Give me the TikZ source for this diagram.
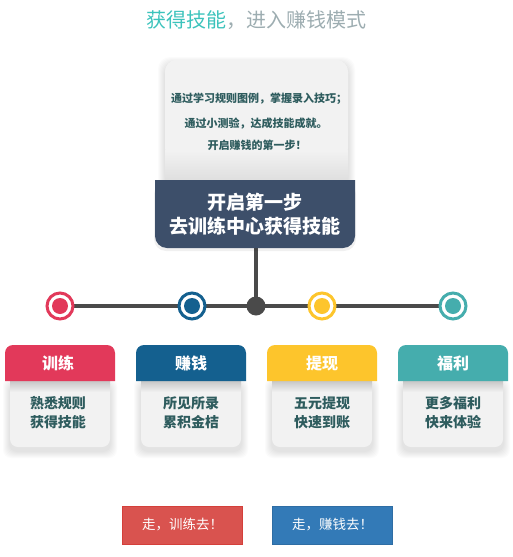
\documentclass[tikz,border=0pt]{standalone}
\usepackage{fontspec}
\setmainfont{Noto Sans CJK SC}
\usetikzlibrary{backgrounds}
\definecolor{ttl}{HTML}{3CC3BC}
\definecolor{ttlgray}{HTML}{9DADB1}
\definecolor{cardtxt}{HTML}{2E5C5E}
\definecolor{darkbox}{HTML}{3D4F6A}
\definecolor{linec}{HTML}{4A4A4A}
\definecolor{cred}{HTML}{E2395A}
\definecolor{cblue}{HTML}{14608F}
\definecolor{cyel}{HTML}{FDC52C}
\definecolor{cteal}{HTML}{45ADAD}
\definecolor{cardbg}{HTML}{F2F2F2}
\definecolor{btnred}{HTML}{D9534F}
\definecolor{btnredb}{HTML}{D43F3A}
\definecolor{btnblue}{HTML}{337AB7}
\definecolor{btnblueb}{HTML}{2E6DA4}
\newcommand\softshade[5]{%
  \foreach \i in {1,...,7}{%
    \fill[black,opacity=0.016,rounded corners=#5] (#1-\i,#2-\i+4) rectangle (#3+\i,#4+\i+4);}%
}
\newcommand\feature[3]{% x1, x2, color
  \softshade{#1+5}{381}{#2-5}{447}{8pt}
  \fill[cardbg,rounded corners=8pt] (#1+5,375) rectangle (#2-5,447);
  \shade[top color=black!22,bottom color=cardbg] (#1+5,381) rectangle (#2-5,392);
  \fill[#3] (#1,381) [rounded corners=8pt]-- (#1,345) -- (#2,345) [sharp corners]-- (#2,381) -- cycle;
}
\tikzset{
  hdr/.style={font=\bfseries\fontsize{16}{18}\selectfont, text=white},
  body/.style={font=\bfseries\fontsize{14}{19}\selectfont, text=cardtxt, align=center},
  ring/.style={circle, draw=#1, line width=3pt, fill=white, minimum size=26pt, inner sep=0pt,
    path picture={\fill[#1] (path picture bounding box.center) circle (8pt);}},
  btn/.style={draw=#1, line width=0.8pt, minimum width=120pt, minimum height=38pt, inner sep=0pt,
    text=white, font=\fontsize{13.5}{15}\selectfont},
  conn/.style={draw=linec, line width=3.2pt},
  small/.style={font=\bfseries\fontsize{11}{12}\selectfont, text=cardtxt}
}
\begin{document}
\begin{tikzpicture}[x=1pt,y=-1pt]
\useasboundingbox (0,0) rectangle (512,557);
% title
\node (title) at (256,20) {\fontsize{20}{22}\selectfont\textcolor{ttl}{获得技能}\textcolor{ttlgray}{，进入赚钱模式}};
% top card
\softshade{165}{60}{348}{190}{12pt}
\shade[top color=white!97!black, bottom color=black!12, rounded corners=12pt] (165,60) rectangle (348,195);
\fill[white!95!black, rounded corners=12pt] (165,60) rectangle (348,160);
\shade[top color=white!95!black, bottom color=black!13] (165,150) rectangle (348,182);
\node[small] (l1) at (259,99) {通过学习规则图例，掌握录入技巧；};
\node[small] (l2) at (256,124) {通过小测验，达成技能成就。};
\node[small] (l3) at (257,145) {开启赚钱的第一步！};
% dark box
\fill[black,opacity=0.06,rounded corners=12pt] (154,182) rectangle (356,251);
\fill[darkbox] (155,180) [rounded corners=12pt]-- (155,248) -- (355,248) [sharp corners]-- (355,180) -- cycle;
\node[font=\bfseries\fontsize{19}{24}\selectfont, text=white, align=center] (startbox) at (255,214) {开启第一步\\去训练中心获得技能};
\coordinate (darkbot) at (256,248);
% timeline
\node[circle, fill=linec, minimum size=19pt, inner sep=0pt] (hub) at (256,306) {};
\node[ring=cred] (c1) at (60,306) {};
\node[ring=cblue] (c2) at (192,306) {};
\node[ring=cyel] (c3) at (322,306) {};
\node[ring=cteal] (c4) at (453,306) {};
\begin{pgfonlayer}{background}
\fill[white] (0,0) rectangle (512,557);
\draw[conn] (c1.center) -- (c4.center);
\draw[conn] (darkbot) -- (hub.center);
\end{pgfonlayer}
% feature cards
\feature{5}{115}{cred}
\feature{136}{246}{cblue}
\feature{267}{377}{cyel}
\feature{398}{508}{cteal}
\node[hdr] (h1) at (58,363) {训练};
\node[hdr] (h2) at (191,363) {赚钱};
\node[hdr] (h3) at (322,363) {提现};
\node[hdr] (h4) at (453,363) {福利};
\node[body] (b1) at (58,413) {熟悉规则\\获得技能};
\node[body] (b2) at (191,413) {所见所录\\累积金桔};
\node[body] (b3) at (322,413) {五元提现\\快速到账};
\node[body] (b4) at (453,413) {更多福利\\快来体验};
% buttons
\node[btn=btnredb, fill=btnred] (go1) at (182.5,525) {走，训练去！};
\node[btn=btnblueb, fill=btnblue] (go2) at (332.5,525) {走，赚钱去！};
\end{tikzpicture}
\end{document}
